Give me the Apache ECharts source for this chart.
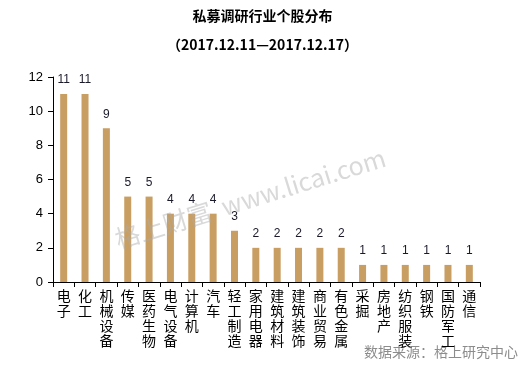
<!DOCTYPE html>
<html><head><meta charset="utf-8">
<script src="https://cdn.jsdelivr.net/npm/echarts@6/dist/echarts.min.js"></script>
<style>html,body{margin:0;padding:0;background:#fff}#c{width:525px;height:371px}</style>
</head><body><div id="c"></div>
<script>
var categories = ['电子','化工','机械设备','传媒','医药生物','电气设备','计算机','汽车','轻工制造','家用电器','建筑材料','建筑装饰','商业贸易','有色金属','采掘','房地产','纺织服装','钢铁','国防军工','通信'];
var values = [11,11,9,5,5,4,4,4,3,2,2,2,2,2,1,1,1,1,1,1];
var yTicks = [0,2,4,6,8,10,12];
var titleText = '私募调研行业个股分布';
var subText = '（2017.12.11—2017.12.17）';
var sourceText = '数据来源：格上研究中心';
var watermark = '格上财富  www.licai.com';

var chart = echarts.init(document.getElementById('c'));
chart.setOption({
  animation: false,
  title: [
    {text: titleText, left: 'center', top: 4, textStyle: {fontSize: 14, fontWeight: 'bold', color: '#000', fontFamily: 'Noto Sans CJK SC'}},
    {text: subText, left: 'center', top: 33, textStyle: {fontSize: 14, fontWeight: 'bold', color: '#000', fontFamily: 'Noto Sans CJK SC'}}
  ],
  graphic: [
    {type: 'text', left: 364, top: 345, style: {text: sourceText, fill: '#8c8c8c', fontSize: 14, fontFamily: 'Noto Sans CJK SC'}},
    {type: 'text', x: 112, y: 228, rotation: 0.3, z: 100, style: {text: watermark, fill: 'rgba(170,170,170,0.45)', fontSize: 25, fontFamily: 'Noto Sans CJK SC'}}
  ],
  grid: {left: 53, right: 45, top: 77, bottom: 89, containLabel: false},
  xAxis: {
    type: 'category', data: categories,
    axisLine: {lineStyle: {color: '#000', width: 1}},
    axisTick: {show: true, length: 5, lineStyle: {color: '#000'}},
    axisLabel: {interval: 0, color: '#000', fontSize: 14, lineHeight: 15, margin: 6, fontFamily: 'Noto Sans CJK SC',
      formatter: function(v){ return v.split('').join('\n'); }}
  },
  yAxis: {
    type: 'value', min: 0, max: 12, interval: 2,
    splitLine: {show: false},
    axisLine: {show: true, lineStyle: {color: '#000', width: 1}},
    axisTick: {show: true, length: 5, lineStyle: {color: '#000'}},
    axisLabel: {color: '#000', fontSize: 13, margin: 10, fontFamily: 'Liberation Sans'}
  },
  series: [{
    type: 'bar', data: values, barWidth: 7,
    itemStyle: {color: '#C99E62'},
    label: {show: true, position: 'top', distance: 8, color: '#1a1a2a', fontSize: 12, fontFamily: 'Liberation Sans'}
  }]
});
</script></body></html>
